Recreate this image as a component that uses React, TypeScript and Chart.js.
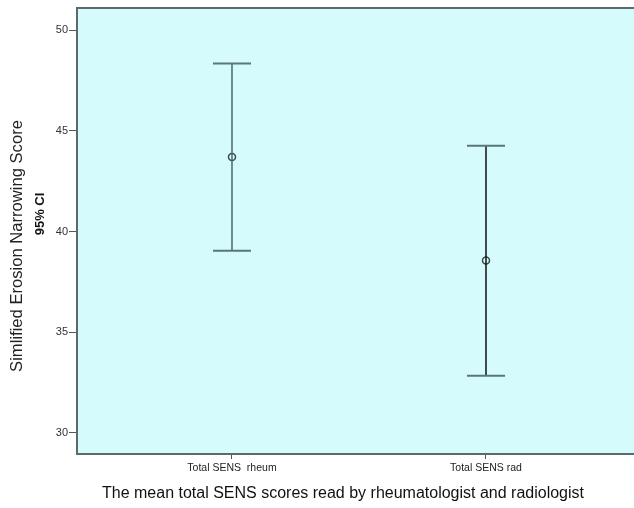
import React, { useEffect, useRef } from "react";
import { Chart, registerables } from "chart.js";

Chart.register(...registerables);

const categories = ["Total SENS  rheum", "Total SENS rad"];
const means = [43.7, 38.56];
const lowerCI = [39.05, 32.84];
const upperCI = [48.34, 44.26];
const yTicks = [30, 35, 40, 45, 50];
const barColors = ["#4a6b6b", "#111111"];
const xTitle = "The mean total SENS scores read by rheumatologist and radiologist";
const yTitle = "Simlified Erosion Narrowing Score";
const ySubTitle = "95% CI";

const FONT = "'Liberation Sans', Arial, sans-serif";

const bgPlugin = {
  id: "plotBg",
  beforeDraw(chart: any) {
    const { ctx, chartArea } = chart;
    ctx.save();
    ctx.fillStyle = "#d6fbfc";
    ctx.fillRect(chartArea.left, chartArea.top, chartArea.right - chartArea.left, chartArea.bottom - chartArea.top);
    ctx.restore();
  },
  afterDraw(chart: any) {
    const { ctx, chartArea } = chart;
    ctx.save();
    ctx.strokeStyle = "#5b6b6b";
    ctx.lineWidth = 2;
    ctx.beginPath();
    ctx.moveTo(chartArea.left, chartArea.top);
    ctx.lineTo(chartArea.right, chartArea.top);
    ctx.stroke();
    // x-axis caption
    ctx.fillStyle = "#111";
    ctx.font = "16px " + FONT;
    ctx.textAlign = "center";
    ctx.textBaseline = "middle";
    ctx.fillText(xTitle, 343, 494);
    ctx.restore();
    // y-axis titles
    ctx.save();
    ctx.translate(17, 246);
    ctx.rotate(-Math.PI / 2);
    ctx.fillStyle = "#222";
    ctx.font = "16.6px " + FONT;
    ctx.textAlign = "center";
    ctx.textBaseline = "middle";
    ctx.fillText(yTitle, 0, 0);
    ctx.restore();
    ctx.save();
    ctx.translate(40, 214);
    ctx.rotate(-Math.PI / 2);
    ctx.fillStyle = "#111";
    ctx.font = "bold 13px " + FONT;
    ctx.textAlign = "center";
    ctx.textBaseline = "middle";
    ctx.fillText(ySubTitle, 0, 0);
    ctx.restore();
  },
};

export default function App() {
  const ref = useRef<HTMLCanvasElement>(null);
  useEffect(() => {
    document.body.style.margin = "0";
    const datasets: any[] = [];
    categories.forEach((_, i) => {
      datasets.push({
        type: "line",
        data: [
          { x: i + 1, y: lowerCI[i] },
          { x: i + 1, y: upperCI[i] },
        ],
        showLine: true,
        borderColor: barColors[i],
        borderWidth: 1.5,
        pointStyle: "line",
        pointRadius: 19,
        pointBorderWidth: 2,
        pointBorderColor: "#5a7676",
        pointBackgroundColor: "#5a7676",
      });
    });
    datasets.push({
      type: "scatter",
      data: means.map((m, i) => ({ x: i + 1, y: m })),
      pointStyle: "circle",
      pointRadius: 3.5,
      pointBorderWidth: 1.5,
      pointBorderColor: "#3a4a4a",
      pointBackgroundColor: "rgba(0,0,0,0)",
    });
    const chart = new Chart(ref.current!, {
      type: "scatter",
      data: { datasets },
      plugins: [bgPlugin],
      options: {
        animation: false,
        responsive: false,
        layout: { autoPadding: false, padding: { top: 8, right: 0, left: 0, bottom: 0 } },
        plugins: { legend: { display: false }, tooltip: { enabled: false } },
        scales: {
          x: {
            type: "linear",
            min: 0.3898,
            max: 2.5827,
            afterBuildTicks: (s: any) => {
              s.ticks = categories.map((_, i) => ({ value: i + 1 }));
            },
            afterFit: (s: any) => {
              s.height = 54;
              s.paddingLeft = 0;
              s.paddingRight = 0;
            },
            ticks: {
              callback: (v: any) => categories[Math.round(Number(v)) - 1] ?? "",
              font: { family: FONT, size: 10.5 },
              color: "#222",
              padding: 3,
              maxRotation: 0,
            },
            grid: { drawOnChartArea: false, tickLength: 5, color: "#555", lineWidth: 1 },
            border: { display: true, color: "#5b6b6b", width: 2 },
          },
          y: {
            min: 28.95,
            max: 51.1,
            afterBuildTicks: (s: any) => {
              s.ticks = yTicks.map((v) => ({ value: v }));
            },
            afterFit: (s: any) => {
              s.width = 77;
              s.paddingTop = 0;
              s.paddingBottom = 0;
            },
            ticks: {
              font: { family: FONT, size: 11 },
              color: "#333",
              padding: 1,
            },
            grid: { drawOnChartArea: false, tickLength: 8, color: "#555", lineWidth: 1 },
            border: { display: true, color: "#5b6b6b", width: 2 },
          },
        },
      },
    });
    return () => chart.destroy();
  }, []);
  return (
    <div style={{ width: 634, height: 508 }}>
      <canvas ref={ref} width={634} height={508} style={{ display: "block" }} />
    </div>
  );
}
